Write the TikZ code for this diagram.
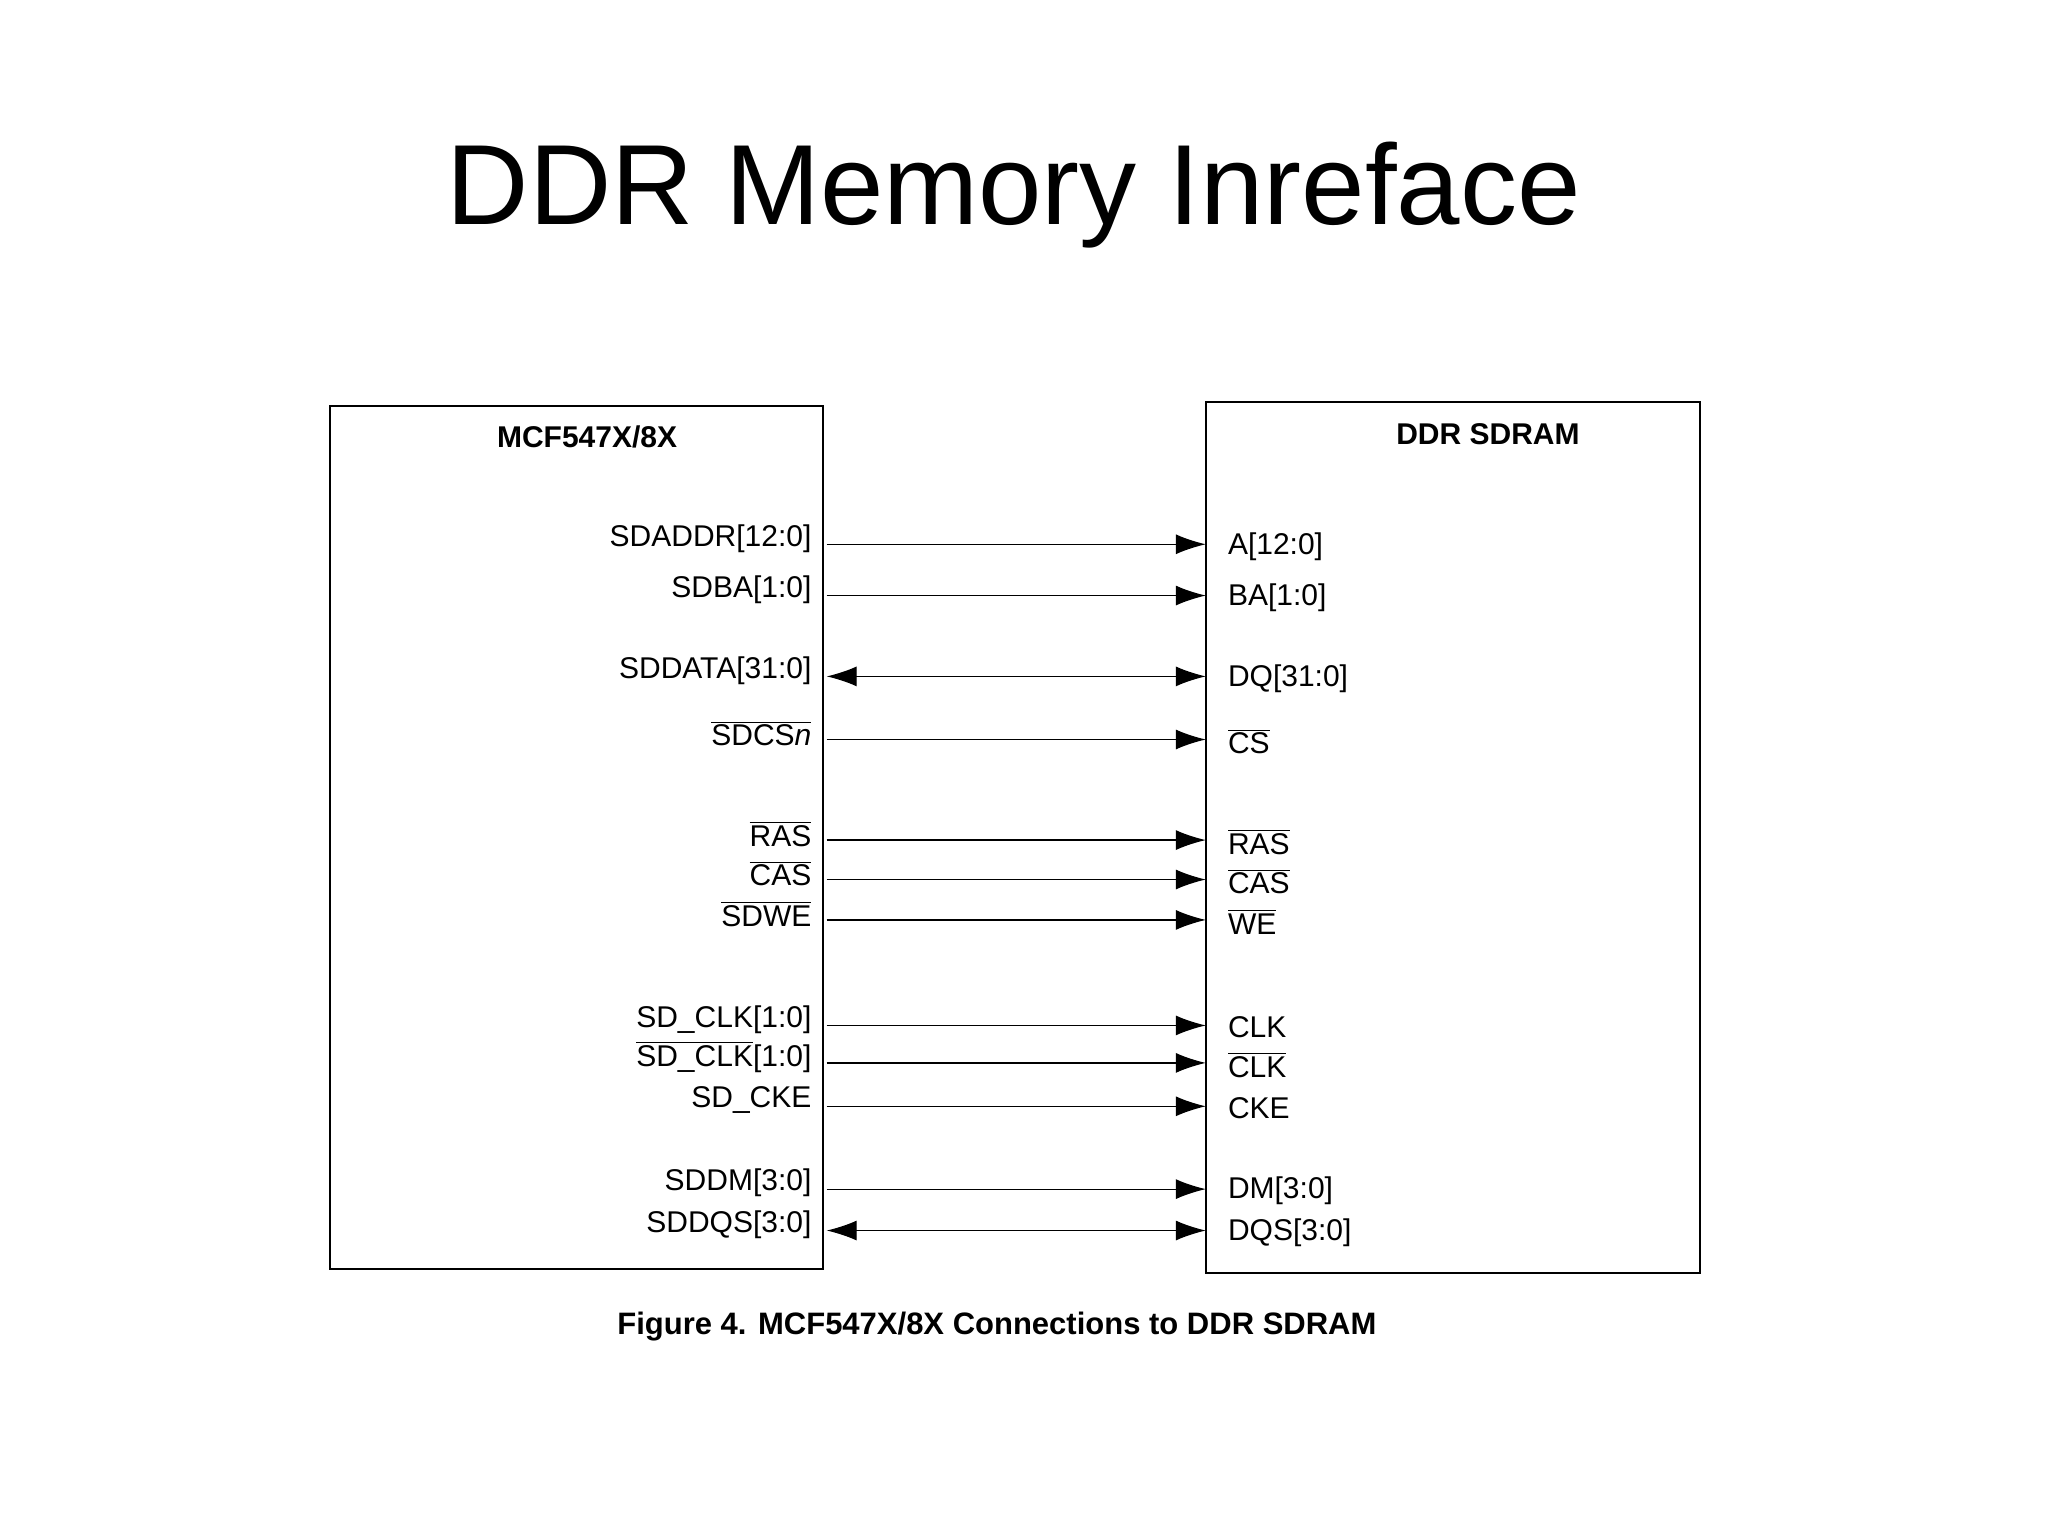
\documentclass[tikz,border=0pt]{standalone}
\usepackage{fontspec}
\setmainfont{Liberation Sans}
\usetikzlibrary{arrows.meta}
\newcommand{\ob}[1]{$\overline{\mbox{#1}}$}
\begin{document}
\begin{tikzpicture}[x=0.495pt,y=-0.493pt,
  lab/.style={font=\fontsize{15}{17}\selectfont,inner sep=0pt},
  llab/.style={lab,anchor=east},
  rlab/.style={lab,anchor=west},
  sig/.style={line width=0.6pt,-{Latex[length=15pt,width=10pt]}},
  bidir/.style={line width=0.6pt,{Latex[length=15pt,width=10pt]}-{Latex[length=15pt,width=10pt]}},
  chip/.style={draw,line width=0.9pt}]
\useasboundingbox (0pt,0pt) rectangle (1024pt,-767.5pt);
\node[font=\fontsize{57}{62}\selectfont] (title) at (1024,198) {DDR Memory Inreface};
\draw[chip] (333,412) rectangle (831,1287);
\draw[chip] (1218,408) rectangle (1717,1291);
\node[lab,font=\fontsize{15}{17}\selectfont\bfseries] (h1) at (593,443) {MCF547X/8X};
\node[lab,font=\fontsize{15}{17}\selectfont\bfseries] (h2) at (1503,440) {DDR SDRAM};
\node[lab,font=\fontsize{15.5}{17}\selectfont\bfseries] (cap) at (1007,1345) {Figure 4. MCF547X/8X Connections to DDR SDRAM};
\foreach \i/\y/\l/\r/\b in {
  a/552/{SDADDR[12:0]}/{A[12:0]}/0,
  b/604/{SDBA[1:0]}/{BA[1:0]}/0,
  c/686/{SDDATA[31:0]}/{DQ[31:0]}/1,
  d/750/{\ob{SDCS\textit{n}}}/{\ob{CS}}/0,
  e/852/{\ob{RAS}}/{\ob{RAS}}/0,
  f/892/{\ob{CAS}}/{\ob{CAS}}/0,
  g/933/{\ob{SDWE}}/{\ob{WE}}/0,
  h/1040/{SD\_CLK[1:0]}/{CLK}/0,
  i/1078/{\ob{SD\_CLK}[1:0]}/{\ob{CLK}}/0,
  j/1122/{SD\_CKE}/{CKE}/0,
  k/1206/{SDDM[3:0]}/{DM[3:0]}/0,
  l/1248/{SDDQS[3:0]}/{DQS[3:0]}/1} {
  \node[llab] (L\i) at (820,\y-6) {\l};
  \node[rlab] (R\i) at (1240,\y+2) {\r};
  \coordinate (s\i) at (835,\y);
  \coordinate (t\i) at (1218,\y);
  \ifnum\b=1 \draw[bidir] (s\i) -- (t\i); \else \draw[sig] (s\i) -- (t\i); \fi
}
\end{tikzpicture}
\end{document}
